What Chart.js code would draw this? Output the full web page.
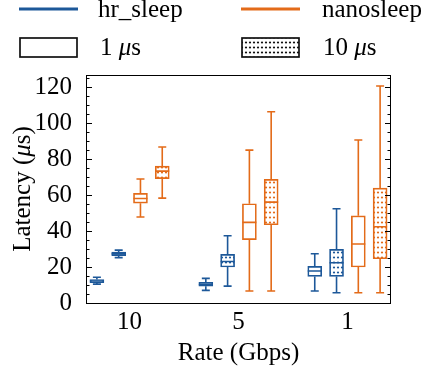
<!DOCTYPE html>
<html>
<head>
<meta charset="utf-8">
<script src="https://cdn.jsdelivr.net/npm/chart.js@4.4.1/dist/chart.umd.min.js"></script>
<style>
  html, body { margin: 0; padding: 0; background: #fff; }
  #wrap { width: 430px; height: 372px; }
</style>
</head>
<body>
<div id="wrap"><canvas id="chart" width="430" height="372"></canvas></div>
<script>
// Rate groups on the x axis
const rates = ["10", "5", "1"];
const yTicks = [0, 20, 40, 60, 80, 100, 120];

// each box: [min, q1, median, q3, max] in microseconds, one per rate
const hrSleep1 = [[10.5, 11.3, 12.2, 13.0, 14.3], [7.0, 9.3, 10.3, 11.5, 13.7], [6.7, 14.8, 17.8, 20.4, 27.4]];
const hrSleep10 = [[25.2, 26.3, 27.3, 28.3, 29.4], [9.4, 20.0, 23.1, 27.0, 37.4], [5.7, 14.8, 22.4, 29.8, 52.4]];
const nano1 = [[47.8, 55.5, 58.1, 60.9, 68.9], [6.7, 35.2, 44.8, 55.2, 85.0], [5.7, 20.0, 32.8, 48.5, 90.6]];
const nano10 = [[58.3, 69.1, 73.3, 76.1, 86.7], [6.7, 43.5, 56.1, 68.7, 106.3], [5.7, 24.6, 42.4, 63.9, 120.6]];

const BLUE = "#1d5899";
const ORANGE = "#e36b19";
const FONT = "'Liberation Serif', serif";

// small dotted fill like the hatch "..", white behind
function dots(color) {
    const c = document.createElement("canvas");
    c.width = 4; c.height = 5;
    const g = c.getContext("2d");
    g.fillStyle = "#fff";
    g.fillRect(0, 0, 4, 5);
    g.fillStyle = color;
    g.beginPath();
    g.arc(2, 2.5, 1.1, 0, Math.PI * 2);
    g.fill();
    return document.getElementById("chart").getContext("2d").createPattern(c, "repeat");
}

function boxes(stats, shift) {
    return stats.map((s, i) => ({ x: i + 1 + shift, y: [s[1], s[3]] }));
}

function series(label, stats, shift, color, hatched) {
    return {
        label: label,
        stats: stats,
        data: boxes(stats, shift),
        borderColor: color,
        backgroundColor: hatched ? dots(color) : "#fff",
        borderWidth: 1.7,
        borderSkipped: false,
        barThickness: 14,
        grouped: false
    };
}

// whiskers, caps and medians
const boxPlot = {
    id: "boxPlot",
    afterDatasetsDraw(chart) {
        const ctx = chart.ctx;
        const y = chart.scales.y;
        chart.data.datasets.forEach((ds, di) => {
            const meta = chart.getDatasetMeta(di);
            meta.data.forEach((bar, i) => {
                const [lo, q1, med, q3, hi] = ds.stats[i];
                const x = bar.x;
                const half = bar.width / 2;
                ctx.save();
                ctx.strokeStyle = ds.borderColor;
                ctx.lineWidth = 1.6;
                ctx.beginPath();
                ctx.moveTo(x, y.getPixelForValue(q3));
                ctx.lineTo(x, y.getPixelForValue(hi));
                ctx.moveTo(x, y.getPixelForValue(q1));
                ctx.lineTo(x, y.getPixelForValue(lo));
                ctx.moveTo(x - 4, y.getPixelForValue(hi));
                ctx.lineTo(x + 4, y.getPixelForValue(hi));
                ctx.moveTo(x - 4, y.getPixelForValue(lo));
                ctx.lineTo(x + 4, y.getPixelForValue(lo));
                ctx.moveTo(x - half, y.getPixelForValue(med));
                ctx.lineTo(x + half, y.getPixelForValue(med));
                ctx.stroke();
                ctx.restore();
            });
        });
    },
    afterDraw(chart) {
        const ctx = chart.ctx;
        const a = chart.chartArea;
        const y = chart.scales.y;
        ctx.save();
        // frame
        ctx.strokeStyle = "#000";
        ctx.lineWidth = 1;
        ctx.strokeRect(Math.round(a.left) + 0.5, Math.round(a.top) + 0.5,
            Math.round(a.right - a.left) - 1, Math.round(a.bottom - a.top));
        // inward ticks, left and right
        ctx.beginPath();
        for (let v = 0; v <= y.max; v += 5) {
            const py = Math.round(y.getPixelForValue(v)) + 0.5;
            const len = v % 20 === 0 ? 6 : 3.5;
            ctx.moveTo(a.left, py); ctx.lineTo(a.left + len, py);
            ctx.moveTo(a.right, py); ctx.lineTo(a.right - len, py);
        }
        ctx.stroke();

        // axis titles
        ctx.fillStyle = "#000";
        ctx.textBaseline = "alphabetic";
        ctx.font = "25px " + FONT;
        ctx.textAlign = "center";
        ctx.fillText("Rate (Gbps)", (a.left + a.right) / 2, 360);

        ctx.translate(30, (a.top + a.bottom) / 2);
        ctx.rotate(-Math.PI / 2);
        mixed(ctx, ["Latency (", "μ", "s)"], 0, 0, true);
        ctx.setTransform(1, 0, 0, 1, 0, 0);

        // legend
        ctx.lineWidth = 3;
        ctx.strokeStyle = BLUE;
        ctx.beginPath(); ctx.moveTo(19, 9); ctx.lineTo(78, 9); ctx.stroke();
        ctx.strokeStyle = ORANGE;
        ctx.beginPath(); ctx.moveTo(241, 9); ctx.lineTo(300, 9); ctx.stroke();
        ctx.textAlign = "left";
        ctx.font = "25px " + FONT;
        ctx.fillText("hr_sleep", 98, 17);
        ctx.fillText("nanosleep", 322, 17);

        ctx.lineWidth = 1.7;
        ctx.strokeStyle = "#111";
        ctx.fillStyle = "#fff";
        ctx.fillRect(20, 38, 57, 19);
        ctx.strokeRect(20, 38, 57, 19);
        ctx.fillStyle = dots("#111");
        ctx.fillRect(242, 38, 57, 19);
        ctx.strokeRect(242, 38, 57, 19);
        ctx.fillStyle = "#000";
        mixed(ctx, ["1 ", "μ", "s"], 100, 55, false);
        mixed(ctx, ["10 ", "μ", "s"], 323, 55, false);
        ctx.restore();
    }
};

// draw text pieces with the middle one in italic (math mu)
function mixed(ctx, parts, x, y, centered) {
    const fonts = ["25px " + FONT, "italic 25px " + FONT, "25px " + FONT];
    let total = 0;
    parts.forEach((p, i) => { ctx.font = fonts[i]; total += ctx.measureText(p).width; });
    let cx = centered ? x - total / 2 : x;
    ctx.textAlign = "left";
    parts.forEach((p, i) => {
        ctx.font = fonts[i];
        ctx.fillText(p, cx, y);
        cx += ctx.measureText(p).width;
    });
}

new Chart(document.getElementById("chart"), {
    type: "bar",
    data: {
        datasets: [
            series("hr_sleep 1 us", hrSleep1, -0.3, BLUE, false),
            series("hr_sleep 10 us", hrSleep10, -0.1, BLUE, true),
            series("nanosleep 1 us", nano1, 0.1, ORANGE, false),
            series("nanosleep 10 us", nano10, 0.3, ORANGE, true)
        ]
    },
    options: {
        responsive: false,
        animation: false,
        devicePixelRatio: 1,
        layout: { padding: { top: 75, right: 39, left: 0, bottom: 0 } },
        plugins: { legend: { display: false }, tooltip: { enabled: false } },
        scales: {
            x: {
                type: "linear",
                min: 0.6,
                max: 3.4,
                offset: false,
                grid: { display: false },
                border: { display: false },
                afterBuildTicks: s => { s.ticks = rates.map((_, i) => ({ value: i + 1 })); },
                afterFit: s => { s.height = 69; },
                ticks: {
                    color: "#000",
                    padding: -4,
                    font: { family: FONT, size: 25 },
                    callback: v => rates[v - 1]
                }
            },
            y: {
                min: 0,
                max: 126.75,
                grid: { display: false },
                border: { display: false },
                afterBuildTicks: s => { s.ticks = yTicks.map(v => ({ value: v })); },
                afterFit: s => { s.width = 86; },
                ticks: {
                    color: "#000",
                    padding: 6,
                    font: { family: FONT, size: 25 }
                }
            }
        }
    },
    plugins: [boxPlot]
});
</script>
</body>
</html>
